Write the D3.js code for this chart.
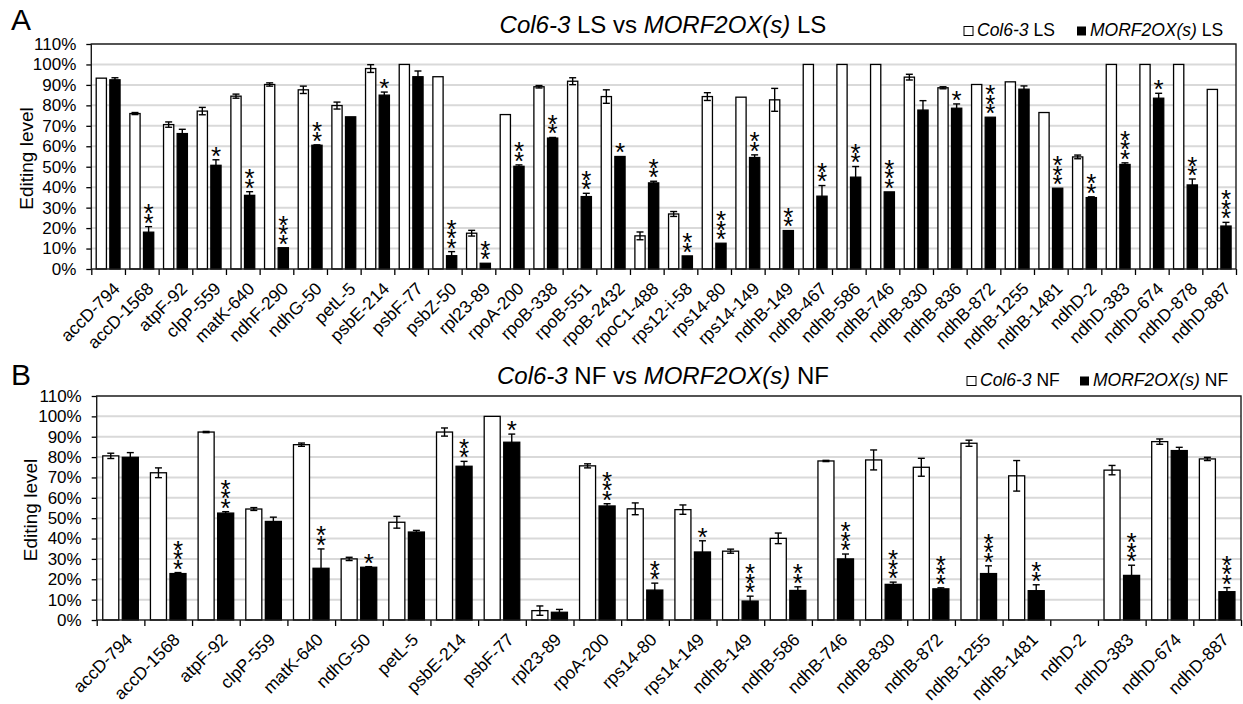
<!DOCTYPE html>
<html>
<head>
<meta charset="utf-8">
<script src="https://cdn.jsdelivr.net/npm/d3@7"></script>
<style>
  body { margin: 0; background: #fff; }
  svg { display: block; font-family: "Liberation Sans", Arial, sans-serif; }
</style>
</head>
<body>
<div id="chart"></div>
<script>
// ---- panel A: leaves (LS) ----
const catsA = ['accD-794', 'accD-1568', 'atpF-92', 'clpP-559', 'matK-640', 'ndhF-290', 'ndhG-50', 'petL-5',
    'psbE-214', 'psbF-77', 'psbZ-50', 'rpl23-89', 'rpoA-200', 'rpoB-338', 'rpoB-551', 'rpoB-2432', 'rpoC1-488',
    'rps12-i-58', 'rps14-80', 'rps14-149', 'ndhB-149', 'ndhB-467', 'ndhB-586', 'ndhB-746', 'ndhB-830', 'ndhB-836',
    'ndhB-872', 'ndhB-1255', 'ndhB-1481', 'ndhD-2', 'ndhD-383', 'ndhD-674', 'ndhD-878', 'ndhD-887'];
const colA = [93.3, 76.0, 70.6, 77.2, 84.5, 90.2, 87.6, 79.9, 98.0, 100, 94.0, 17.5, 75.5, 89.1, 91.8, 84.3, 16.2,
    26.9, 84.3, 84.0, 82.7, 100, 100, 100, 93.8, 88.6, 90.2, 91.5, 76.5, 54.8, 100, 100, 100, 87.8];
const colErrA = [0, 0.5, 1.3, 1.8, 1.0, 0.8, 1.8, 1.7, 1.9, 0, 0, 1.4, 0, 0.6, 1.7, 3.3, 1.9,
    1.2, 1.9, 0, 5.6, 0, 0, 0, 1.4, 0.5, 0, 0, 0, 0.9, 0, 0, 0, 0];
const morfA = [92.5, 18.0, 66.2, 50.7, 36.0, 10.4, 60.5, 74.4, 85.0, 94.0, 6.5, 2.8, 50.2, 64.0, 35.4, 55.0, 42.1,
    6.4, 12.6, 54.5, 18.8, 35.6, 44.9, 37.7, 77.7, 78.6, 74.2, 87.9, 39.5, 34.9, 51.1, 83.5, 41.1, 21.0];
const morfErrA = [1.0, 2.7, 2.1, 2.7, 1.8, 0, 0.2, 0, 1.5, 2.8, 2.0, 0, 0.7, 0.3, 1.6, 0, 0.8,
    0, 0, 1.3, 0, 5.2, 5.2, 0, 4.6, 2.1, 0, 1.6, 0, 0.4, 0.8, 2.4, 2.9, 1.8];
const sigA = [0, 2, 0, 1, 2, 3, 2, 0, 1, 0, 3, 2, 2, 2, 2, 1, 2, 2, 3, 2, 2, 2, 2, 3, 0, 1, 3, 0, 3, 2, 3, 1, 2, 3];

// ---- panel B: flowers (NF) ----
const catsB = ['accD-794', 'accD-1568', 'atpF-92', 'clpP-559', 'matK-640', 'ndhG-50', 'petL-5', 'psbE-214',
    'psbF-77', 'rpl23-89', 'rpoA-200', 'rps14-80', 'rps14-149', 'ndhB-149', 'ndhB-586', 'ndhB-746', 'ndhB-830',
    'ndhB-872', 'ndhB-1255', 'ndhB-1481', 'ndhD-2', 'ndhD-383', 'ndhD-674', 'ndhD-887'];
const colB = [80.6, 72.3, 92.3, 54.5, 86.1, 30.0, 48.0, 92.3, 100, 4.6, 75.7, 54.6, 54.2, 33.8, 40.1, 78.1, 78.6,
    75.0, 86.8, 70.8, null, 73.6, 87.6, 79.1];
const colErrB = [1.3, 2.4, 0.3, 0.7, 0.8, 0.8, 2.9, 2.0, 0, 2.3, 1.0, 2.9, 2.3, 1.0, 2.6, 0.3, 4.9,
    4.4, 1.5, 7.5, null, 2.3, 1.3, 0.8];
const morfB = [79.9, 22.8, 52.5, 48.4, 25.4, 25.9, 43.2, 75.5, 87.3, 3.8, 56.0, 14.7, 33.4, 9.3, 14.5, 30.0, 17.5,
    15.3, 22.8, 14.4, null, 21.9, 83.2, 13.9];
const morfErrB = [2.3, 0.5, 0.7, 2.1, 9.5, 0.3, 0.8, 2.4, 4.0, 1.4, 1.1, 3.4, 5.5, 2.4, 1.8, 2.4, 1.1,
    0.5, 3.8, 2.9, null, 5.0, 1.6, 2.0];
const sigB = [0, 3, 3, 0, 2, 1, 0, 2, 1, 0, 3, 2, 1, 3, 2, 3, 3, 3, 3, 2, 0, 3, 0, 3];

const yTicks = d3.range(0, 111, 10);

const svg = d3.select('#chart').append('svg')
    .attr('width', 1243)
    .attr('height', 704);

function addSeries(text, tissue, sel) {
    sel.append('tspan').attr('font-style', 'italic').text(text);
    sel.append('tspan').text(' ' + tissue);
}

function drawPanel(p) {
    const n = p.cats.length;
    const x = d3.scaleBand().domain(p.cats).range([p.left, p.right]);
    const xEdge = d3.scaleLinear().domain([0, n]).range([p.left, p.right]);
    const sub = d3.scaleBand().domain(['col', 'morf']).range([0, x.bandwidth()])
        .paddingInner(p.pi).paddingOuter(p.po);
    const y = d3.scaleLinear().domain([0, 110]).range([p.bottom, p.top]);
    const g = svg.append('g');

    // gridlines
    g.append('g').selectAll('line')
        .data(yTicks.filter(d => d > 0))
        .enter().append('line')
        .attr('x1', p.left).attr('x2', p.right)
        .attr('y1', d => y(d)).attr('y2', d => y(d))
        .attr('stroke', '#d9d9d9').attr('stroke-width', 2);

    // y axis
    const yAxis = g.append('g')
        .attr('transform', `translate(${p.left},0)`)
        .call(d3.axisLeft(y).tickValues(yTicks).tickSize(5).tickPadding(10).tickFormat(d => d + '%'));
    yAxis.select('.domain').remove();
    yAxis.selectAll('text').attr('font-size', 17).attr('fill', '#000')
        .attr('font-family', '"Liberation Sans", Arial, sans-serif');
    yAxis.selectAll('line').attr('stroke', '#000').attr('stroke-width', 1.3);

    // x axis ticks at category edges
    const xAxis = g.append('g')
        .attr('transform', `translate(0,${p.bottom})`)
        .call(d3.axisBottom(xEdge).tickValues(d3.range(n + 1)).tickSize(6).tickFormat(''));
    xAxis.select('.domain').remove();
    xAxis.selectAll('line').attr('stroke', '#000').attr('stroke-width', 1.3);

    const rows = p.cats.map((c, i) => ({
        c, i, col: p.col[i], colErr: p.colErr[i], morf: p.morf[i], morfErr: p.morfErr[i], sig: p.sig[i]
    }));

    // bars
    g.append('g').selectAll('rect')
        .data(rows.filter(d => d.col != null))
        .enter().append('rect')
        .attr('x', d => x(d.c) + sub('col'))
        .attr('width', sub.bandwidth())
        .attr('y', d => y(d.col))
        .attr('height', d => y(0) - y(d.col))
        .attr('fill', '#fff').attr('stroke', '#000').attr('stroke-width', 1.3);
    g.append('g').selectAll('rect')
        .data(rows.filter(d => d.morf != null))
        .enter().append('rect')
        .attr('x', d => x(d.c) + sub('morf'))
        .attr('width', sub.bandwidth())
        .attr('y', d => y(d.morf))
        .attr('height', d => y(0) - y(d.morf))
        .attr('fill', '#000').attr('stroke', '#000').attr('stroke-width', 1.3);

    // error bars
    const errs = [];
    rows.forEach(d => {
        if (d.colErr > 0) errs.push({ cx: x(d.c) + sub('col') + sub.bandwidth() / 2, v: d.col, e: d.colErr });
        if (d.morfErr > 0) errs.push({ cx: x(d.c) + sub('morf') + sub.bandwidth() / 2, v: d.morf, e: d.morfErr });
    });
    const eg = g.append('g').attr('stroke', '#000').attr('stroke-width', 1.4);
    errs.forEach(d => {
        const y1 = y(d.v - d.e), y2 = y(d.v + d.e);
        eg.append('line').attr('x1', d.cx).attr('x2', d.cx).attr('y1', y1).attr('y2', y2);
        eg.append('line').attr('x1', d.cx - 3.5).attr('x2', d.cx + 3.5).attr('y1', y1).attr('y2', y1);
        eg.append('line').attr('x1', d.cx - 3.5).attr('x2', d.cx + 3.5).attr('y1', y2).attr('y2', y2);
    });

    // significance stars: one vertical text per bar, glyphs turned back upright
    const fs = 26;
    g.append('g').selectAll('text')
        .data(rows.filter(d => d.sig > 0))
        .enter().append('text')
        .attr('transform', d => {
            const cx = x(d.c) + sub('morf') + sub.bandwidth() / 2;
            const base = y(d.morf + (d.morfErr || 0)) - 10;
            return `translate(${cx - 0.195 * fs},${base + 0.575 * fs}) rotate(-90)`;
        })
        .attr('rotate', '90')
        .attr('font-size', fs)
        .attr('letter-spacing', -0.7)
        .text(d => '*'.repeat(d.sig));

    // plot frame
    g.append('rect')
        .attr('x', p.left).attr('y', p.top)
        .attr('width', p.right - p.left).attr('height', p.bottom - p.top)
        .attr('fill', 'none').attr('stroke', '#1a1a1a').attr('stroke-width', 1.4);

    // category labels
    g.append('g').selectAll('text')
        .data(p.cats)
        .enter().append('text')
        .attr('transform', d => `translate(${x(d) + x.bandwidth() / 2 + 4},${p.bottom + 12}) rotate(-45)`)
        .attr('text-anchor', 'end')
        .attr('dy', '0.71em')
        .attr('font-size', 17.5)
        .text(d => d);

    // y label
    g.append('text')
        .attr('transform', `translate(${p.ylabX},${(p.top + p.bottom) / 2 + 2}) rotate(-90)`)
        .attr('text-anchor', 'middle')
        .attr('dy', '0.35em')
        .attr('font-size', 19)
        .text('Editing level');

    // panel letter
    g.append('text').attr('x', 11).attr('y', p.letterY).attr('font-size', 30).text(p.letter);

    // title
    const t = g.append('text').attr('x', 663).attr('y', p.titleY)
        .attr('text-anchor', 'middle').attr('font-size', 24);
    t.append('tspan').attr('font-style', 'italic').text('Col6-3');
    t.append('tspan').text(` ${p.tissue} vs `);
    t.append('tspan').attr('font-style', 'italic').text('MORF2OX(s)');
    t.append('tspan').text(` ${p.tissue}`);

    // legend
    const lg = g.append('g');
    lg.append('rect').attr('x', p.legX).attr('y', p.legY - 9.5).attr('width', 9).attr('height', 9)
        .attr('fill', '#fff').attr('stroke', '#000').attr('stroke-width', 1);
    addSeries('Col6-3', p.tissue, lg.append('text').attr('x', p.legX + 13).attr('y', p.legY).attr('font-size', 17.5));
    lg.append('rect').attr('x', p.legX + 113).attr('y', p.legY - 9.5).attr('width', 9).attr('height', 9)
        .attr('fill', '#000');
    addSeries('MORF2OX(s)', p.tissue, lg.append('text').attr('x', p.legX + 126).attr('y', p.legY).attr('font-size', 17.5));
}

drawPanel({
    cats: catsA, col: colA, colErr: colErrA, morf: morfA, morfErr: morfErrA, sig: sigA,
    left: 91.3, right: 1236, top: 44, bottom: 269, pi: 0.25, po: 0.36,
    ylabX: 26, letter: 'A', letterY: 30, titleY: 33, tissue: 'LS', legX: 964, legY: 36
});
drawPanel({
    cats: catsB, col: colB, colErr: colErrB, morf: morfB, morfErr: morfErrB, sig: sigB,
    left: 96.7, right: 1241, top: 396, bottom: 620, pi: 0.18, po: 0.31,
    ylabX: 30, letter: 'B', letterY: 385, titleY: 384, tissue: 'NF', legX: 967, legY: 386
});
</script>
</body>
</html>
